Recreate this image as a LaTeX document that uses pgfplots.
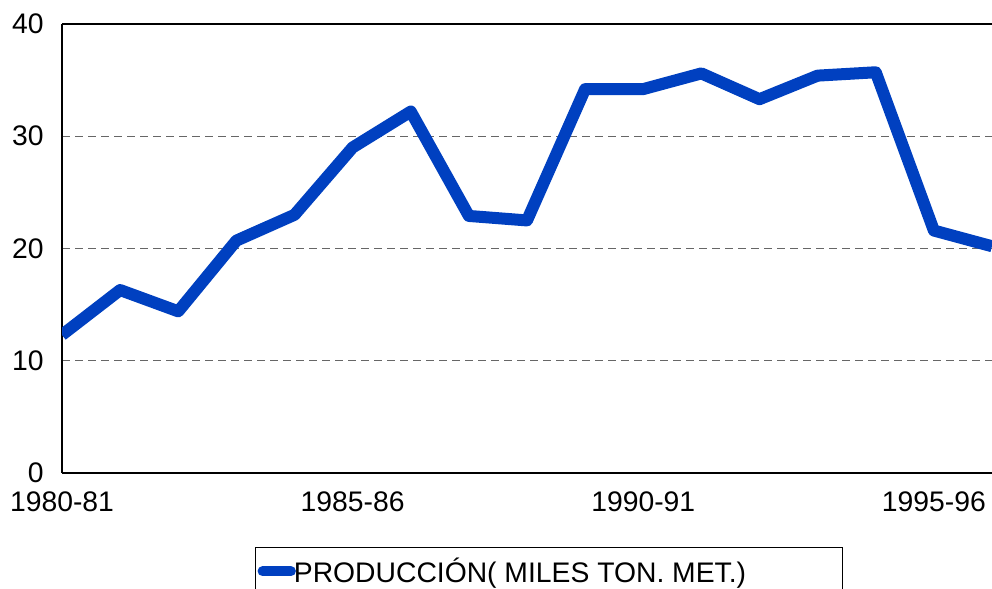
\documentclass[border=0pt]{standalone}
\usepackage{pgfplots}
\pgfplotsset{compat=1.18}
\usepackage{fontspec}
\setmainfont{Liberation Sans}
\definecolor{lineblue}{RGB}{0,64,192}
\begin{document}
\begin{tikzpicture}
\useasboundingbox (0,0) rectangle (496bp,294.5bp);
\begin{axis}[
  at={(31bp,58bp)}, anchor=south west,
  scale only axis, width=465bp, height=224.5bp,
  xmin=0, xmax=16, ymin=0, ymax=40,
  axis x line=box, axis y line=left,
  axis line style={-, black, line width=0.6pt},
  xtick={0,5,10,15},
  xticklabels={1980-81,1985-86,1990-91,1995-96},
  ytick={0,10,20,30,40},
  major tick length=0pt,
  ymajorgrids,
  grid style={dash pattern=on 4bp off 2.5bp, gray!80!black, line width=0.6pt},
  tick label style={font=\fontsize{14.2}{16}\selectfont, inner sep=0pt},
  /pgf/number format/assume math mode=true,
  xticklabel style={yshift=-9bp},
  yticklabel style={xshift=-9bp},
  legend style={at={(0.2075,-0.1648)}, anchor=north west,
    draw=black, line width=0.6pt, inner xsep=1bp, inner ysep=3bp,
    font=\fontsize{14.2}{16}\selectfont},
  legend cell align=left,
  legend image code/.code={\draw[lineblue, line width=5bp, line cap=round] (0.05cm,0) -- (0.55cm,0);},
]
\addplot[lineblue, line width=6bp, line join=round] coordinates {
(0,12.3) (1,16.3) (2,14.4) (3,20.7) (4,23.0) (5,29.0) (6,32.2) (7,22.9)
(8,22.5) (9,34.2) (10,34.2) (11,35.6) (12,33.3) (13,35.4) (14,35.7)
(15,21.6) (16,20.2)};
\addlegendentry{\hspace*{-3bp}PRODUCCIÓN( MILES TON. MET.)\hspace*{45bp}}
\end{axis}
\end{tikzpicture}
\end{document}
